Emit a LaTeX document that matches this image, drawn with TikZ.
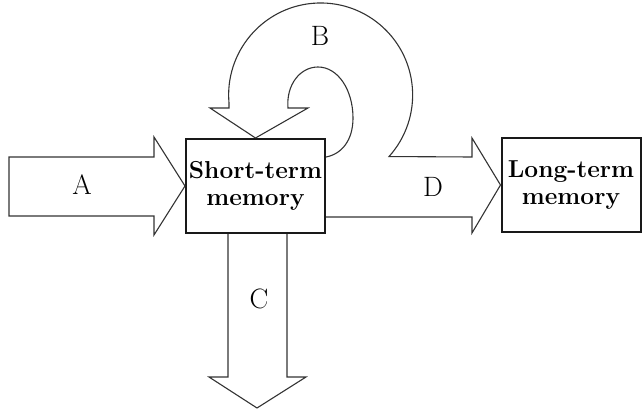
\documentclass[tikz,border=0pt]{standalone}
\usetikzlibrary{calc}
\begin{document}
\begin{tikzpicture}[x=1pt,y=1pt,
  memorybox/.style={draw=black!90,line width=2pt,minimum width=139pt,minimum height=94pt,
    inner sep=0pt,align=center,font=\fontsize{24.5}{27}\selectfont\bfseries},
  blockarrow/.style={draw=black!80,line width=1.1pt,line join=miter},
  flowlabel/.style={font=\fontsize{28}{30}\selectfont,inner sep=0pt}]
\useasboundingbox (0,0) rectangle (642,-409);

% the two memory stores
\node[memorybox] (stm) at (255.5,-186) {Short-term\\memory};
\node[memorybox] (ltm) at (571,-185) {Long-term\\memory};

% A: input into short-term memory
\draw[blockarrow] (9,-157) -- (154,-157) -- (154,-137) -- (stm.west)
  -- (154,-235) -- (154,-216) -- (9,-216) -- cycle;

% C: output downwards, out of short-term memory
\draw[blockarrow] ($(stm.south)+(-27.5,0)$) -- (228,-377) -- (209,-377)
  -- (257,-408) -- (306,-377) -- (287,-377) -- ($(stm.south)+(31.5,0)$);

% B: loop back into short-term memory, its outer edge running on into D
\draw[blockarrow] (stm.north) -- (210,-108) -- (229,-108) -- (229,-103)
  arc[start angle=185,end angle=-42,radius=92pt]
  -- (472,-157) -- (472,-138) -- (ltm.west) -- (472,-233) -- (472,-217)
  -- (stm.east |- 0,-217);
\draw[blockarrow] (stm.north) -- (308,-108) -- (288,-108)
  .. controls (286,-85) and (300,-67) .. (318,-67)
  .. controls (338,-67) and (353,-90) .. (353,-118)
  .. controls (353,-140) and (342,-154) .. (stm.east |- 0,-157);

% labels of the four flows
\node[flowlabel] (la) at (82,-185) {A};
\node[flowlabel] (lb) at (320,-36) {B};
\node[flowlabel] (lc) at (259,-299) {C};
\node[flowlabel] (ld) at (433,-187) {D};
\end{tikzpicture}
\end{document}
